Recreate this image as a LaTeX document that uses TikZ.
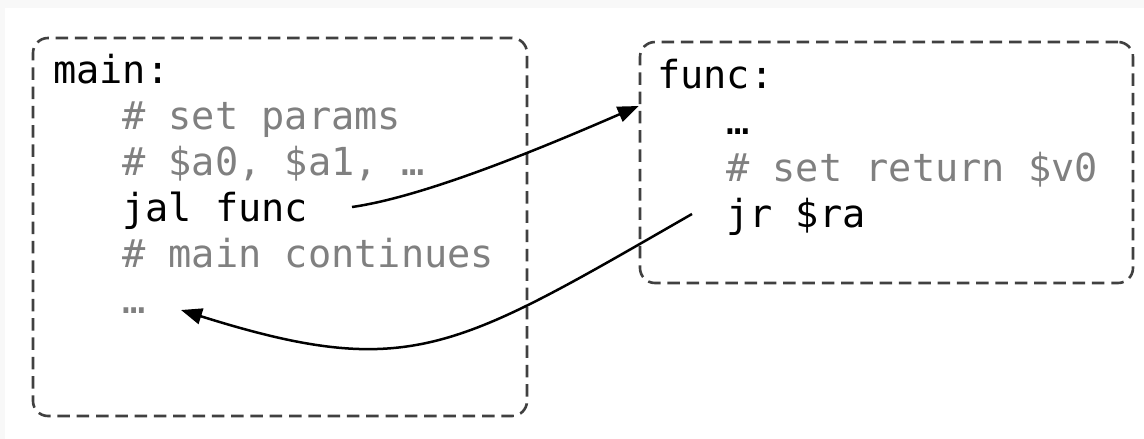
\documentclass[tikz,border=0pt]{standalone}
\usepackage{fontspec}
\setmonofont{DejaVu Sans Mono}
\usetikzlibrary{arrows.meta}
\definecolor{pagebg}{RGB}{248,248,248}
\definecolor{frame}{RGB}{64,64,64}
\definecolor{comment}{RGB}{128,128,128}
\tikzset{
  code/.style={anchor=base west, inner sep=0pt, text=black,
    font=\ttfamily\fontsize{38.6}{46}\selectfont},
  cmt/.style={code, text=comment},
  block/.style={draw=frame, line width=2.6pt, dash pattern=on 12.5pt off 6.8pt,
    rounded corners=15pt, inner sep=0pt},
  flow/.style={line width=2.5pt, -{Triangle[length=21pt,width=16pt]}},
}
\begin{document}
\begin{tikzpicture}[x=1pt,y=-1pt]
  % page background with a thin grey margin
  \fill[pagebg] (0,0) rectangle (1144,439);
  \fill[white] (5,8) rectangle (1144,439);
  \useasboundingbox (0,0) rectangle (1144,439);

  % the two code blocks
  \node[block, minimum width=494pt, minimum height=378pt] (mainbox) at (280,227) {};
  \node[block, minimum width=493pt, minimum height=241pt] (funcbox) at (886.5,162.5) {};

  % caller
  \node[code] (mainlbl) at (53,83)  {main:};
  \node[cmt]  (params)  at (122,129) {\# set params};
  \node[cmt]  (args)    at (122,175) {\# \$a0, \$a1, …};
  \node[code] (jal)     at (122,221) {jal func};
  \node[cmt]  (cont)    at (122,267) {\# main continues};
  \node[cmt]  (rest)    at (122,313) {…};

  % callee
  \node[code] (funclbl) at (657,88)  {func:};
  \node[code] (body)    at (726,134) {…};
  \node[cmt]  (setret)  at (726,181) {\# set return \$v0};
  \node[code] (jr)      at (726,227) {jr \$ra};

  % call and return
  \coordinate (callout) at (352,207);
  \coordinate (calltip) at (funcbox.west |- 0,106);
  \coordinate (retout)  at (692,214);
  \coordinate (rettip)  at (181,310);
  \draw[flow] (callout) .. controls (430,196) and (560,140) .. (calltip);
  \draw[flow] (retout) .. controls (455,350) and (410,382) .. (rettip);
\end{tikzpicture}
\end{document}
